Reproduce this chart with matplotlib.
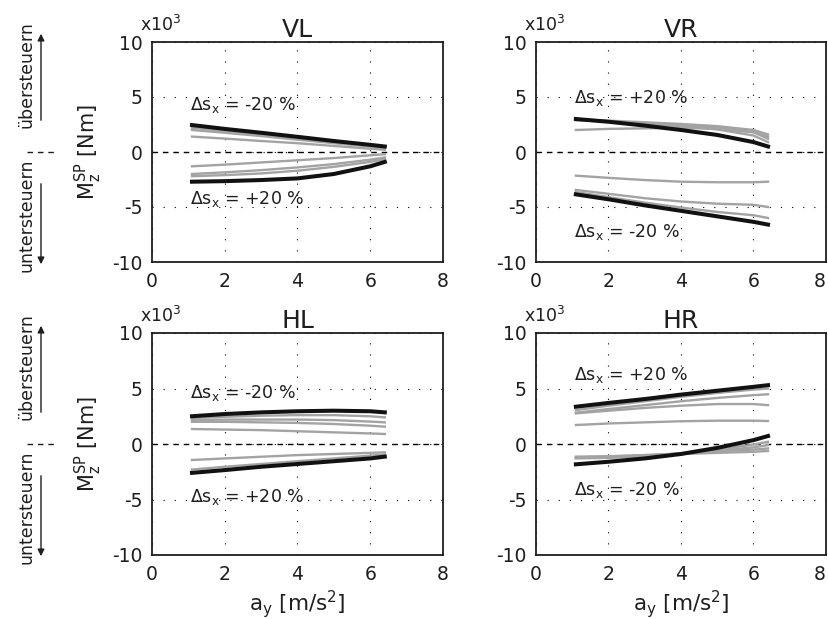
import matplotlib
matplotlib.use("Agg")
import matplotlib.pyplot as plt
import numpy as np

plt.rcParams['font.family'] = ['DejaVu Sans']
plt.rcParams['mathtext.fontset'] = 'dejavusans'
plt.rcParams['axes.unicode_minus'] = False

# ---------------- data (values in 10^3 Nm) ----------------
ay = [1.1, 2.0, 3.0, 4.0, 5.0, 6.0, 6.4]

vl_black = [[2.45, 2.1, 1.75, 1.38, 1.0, 0.65, 0.5],
            [-2.7, -2.65, -2.55, -2.4, -2.0, -1.3, -0.9]]
vl_gray = [[2.2, 1.9, 1.55, 1.2, 0.88, 0.55, 0.42],
           [2.0, 1.75, 1.45, 1.12, 0.8, 0.5, 0.35],
           [1.4, 1.22, 1.0, 0.8, 0.55, 0.3, 0.2],
           [-1.3, -1.15, -0.95, -0.75, -0.55, -0.3, -0.2],
           [-2.0, -1.85, -1.65, -1.4, -1.1, -0.7, -0.5],
           [-2.2, -2.1, -1.95, -1.7, -1.35, -0.9, -0.65]]

vr_black = [[3.0, 2.75, 2.4, 2.0, 1.55, 0.9, 0.5],
            [-3.85, -4.3, -4.85, -5.35, -5.85, -6.35, -6.6]]
vr_gray = [[2.95, 2.85, 2.7, 2.55, 2.35, 2.0, 1.6],
           [2.9, 2.8, 2.6, 2.4, 2.2, 1.8, 1.2],
           [2.9, 2.75, 2.55, 2.35, 2.05, 1.5, 0.9],
           [2.0, 2.1, 2.15, 2.2, 2.1, 1.8, 1.4],
           [-2.15, -2.35, -2.55, -2.7, -2.75, -2.75, -2.7],
           [-3.45, -3.8, -4.2, -4.5, -4.7, -4.8, -5.0],
           [-3.65, -4.1, -4.6, -5.05, -5.45, -5.75, -6.0]]

hl_black = [[2.5, 2.7, 2.85, 2.95, 3.0, 2.95, 2.85],
            [-2.6, -2.35, -2.05, -1.8, -1.55, -1.3, -1.14]]
hl_gray = [[2.35, 2.45, 2.55, 2.6, 2.6, 2.5, 2.4],
           [2.16, 2.2, 2.2, 2.2, 2.15, 2.02, 1.95],
           [2.0, 2.0, 1.95, 1.9, 1.8, 1.65, 1.56],
           [1.35, 1.3, 1.25, 1.15, 1.05, 0.95, 0.9],
           [-1.44, -1.3, -1.15, -1.0, -0.9, -0.8, -0.75],
           [-2.3, -2.05, -1.8, -1.55, -1.3, -1.05, -0.95]]

hr_black = [[3.36, 3.7, 4.05, 4.45, 4.8, 5.15, 5.3],
            [-1.83, -1.6, -1.3, -0.9, -0.35, 0.35, 0.72]]
hr_gray = [[3.06, 3.45, 3.85, 4.25, 4.6, 4.9, 5.0],
           [2.82, 3.15, 3.5, 3.85, 4.15, 4.4, 4.48],
           [2.76, 3.0, 3.25, 3.45, 3.6, 3.6, 3.5],
           [1.71, 1.85, 1.95, 2.05, 2.1, 2.1, 2.07],
           [-1.14, -1.1, -1.0, -0.9, -0.8, -0.7, -0.63],
           [-1.2, -1.15, -1.0, -0.85, -0.65, -0.5, -0.4],
           [-1.25, -1.2, -1.05, -0.85, -0.6, -0.3, -0.1],
           [-1.3, -1.25, -1.1, -0.85, -0.5, -0.05, 0.2]]

titles = ['VL', 'VR', 'HL', 'HR']
upper_labels = ['-20 %', '+20 %', '-20 %', '+20 %']
lower_labels = ['+20 %', '-20 %', '+20 %', '-20 %']
upper_label_y = [4.3, 4.9, 4.6, 6.2]
lower_label_y = [-4.3, -7.3, -4.75, -4.15]

xticks = [0, 2, 4, 6, 8]
yticks = [-10, -5, 0, 5, 10]

# ---------------- figure ----------------
W, H = 829, 619
fig = plt.figure(figsize=(W / 100, H / 100), dpi=100)

def fx(px):
    return px / W

def fy(py):
    return 1 - py / H

# axes boxes in pixel coords (left, top, right, bottom)
boxes = [(152, 42, 443, 262), (536, 42, 826, 262),
         (152, 333, 443, 555), (536, 333, 826, 555)]

blacks = [vl_black, vr_black, hl_black, hr_black]
grays = [vl_gray, vr_gray, hl_gray, hr_gray]
TXT = '#1e1e1e'

for i, (l, t, r, b) in enumerate(boxes):
    ax = fig.add_axes([fx(l), fy(b), fx(r) - fx(l), fy(t) - fy(b)])
    ax.set_xlim(0, 8)
    ax.set_ylim(-10, 10)
    ax.set_xticks(xticks)
    ax.set_yticks(yticks)
    ax.tick_params(length=0, labelsize=13.5, pad=7, colors=TXT)
    if i % 2 == 1:
        ax.get_xticklabels()[-1].set_horizontalalignment('right')
    ax.grid(True, color='black', linestyle=(0, (1, 9)), linewidth=0.8)
    for s in ax.spines.values():
        s.set_linewidth(1.3)
        s.set_color(TXT)
    ax.axhline(0, color='black', linestyle=(0, (4, 3.5)), linewidth=1.0, zorder=1)
    for g in grays[i]:
        ax.plot(ay, g, color='#a3a3a3', linewidth=1.7, zorder=2)
    for k in blacks[i]:
        ax.plot(ay, k, color='#111111', linewidth=2.9, zorder=3)
    ax.set_title(titles[i], fontsize=18, pad=3, color=TXT)
    ax.text(1.05, upper_label_y[i], r'$\mathit{\Delta}$s$_\mathrm{x}$ = ' + upper_labels[i],
            fontsize=12.5, va='center', ha='left', color=TXT)
    ax.text(1.05, lower_label_y[i], r'$\mathit{\Delta}$s$_\mathrm{x}$ = ' + lower_labels[i],
            fontsize=12.5, va='center', ha='left', color=TXT)
    fig.text(fx(l - 12), fy(t - 17), r'x10$^3$', fontsize=12.5, ha='left', va='center',
             color=TXT)
    if i >= 2:
        ax.set_xlabel(r'a$_\mathrm{y}$ [m/s$^2$]', fontsize=15.5, labelpad=3, color=TXT)
    if i % 2 == 0:
        ax.set_ylabel(r'M$_\mathrm{z}^\mathrm{SP}$ [Nm]', fontsize=15, labelpad=6,
                      color=TXT)
        zero = (t + b) / 2
        # over/under steer annotations
        fig.text(fx(27), fy(zero - 77), 'übersteuern',
                 rotation=90, fontsize=12.5, ha='center', va='center', color=TXT)
        fig.text(fx(27), fy(zero + 63), 'untersteuern',
                 rotation=90, fontsize=12.5, ha='center', va='center', color=TXT)
        fig.add_artist(matplotlib.patches.FancyArrowPatch(
            (fx(41), fy(zero - 29)), (fx(41), fy(zero - 121)),
            transform=fig.transFigure, arrowstyle='-|>', mutation_scale=10,
            color=TXT, linewidth=1.0))
        fig.add_artist(matplotlib.patches.FancyArrowPatch(
            (fx(41), fy(zero + 29)), (fx(41), fy(zero + 115)),
            transform=fig.transFigure, arrowstyle='-|>', mutation_scale=10,
            color=TXT, linewidth=1.0))
        fig.add_artist(matplotlib.lines.Line2D(
            [fx(27), fx(54)], [fy(zero), fy(zero)], transform=fig.transFigure,
            color=TXT, linestyle=(0, (4, 3.5)), linewidth=1.0))

fig.savefig('out.png', dpi=100)
